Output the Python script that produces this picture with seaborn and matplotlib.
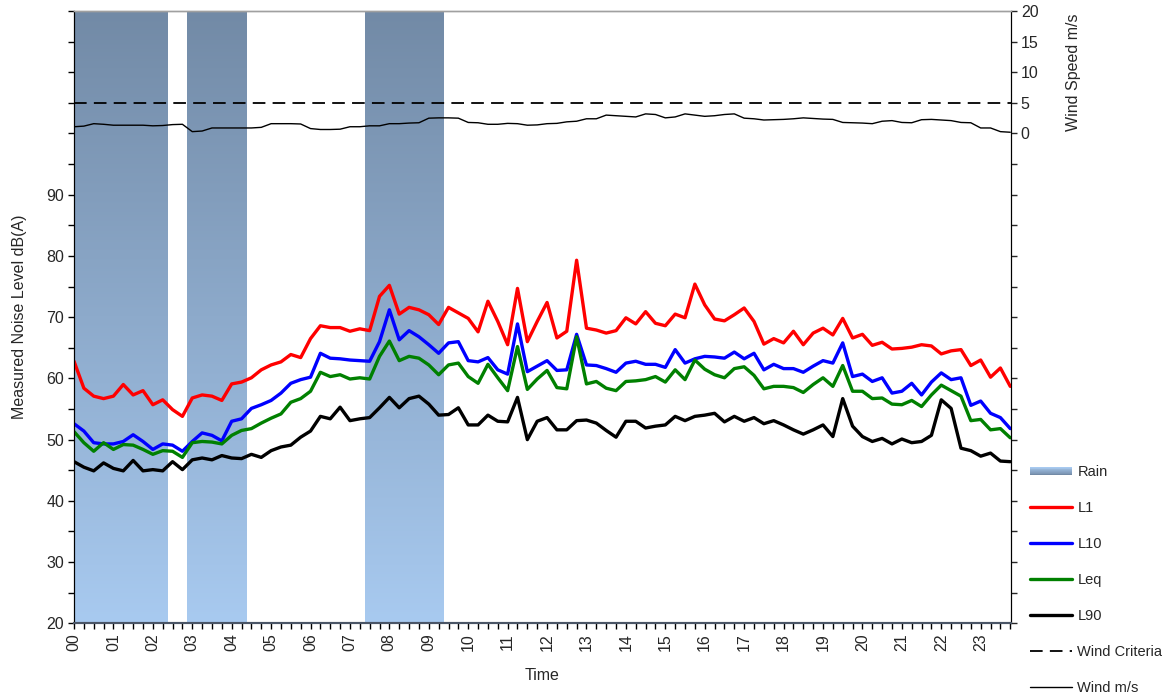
import numpy as np
import pandas as pd
import seaborn as sns
import matplotlib
matplotlib.use("Agg")
import matplotlib.pyplot as plt
from matplotlib.colors import LinearSegmentedColormap
from matplotlib.lines import Line2D
from matplotlib.patches import Rectangle
from matplotlib.legend_handler import HandlerBase

# 15 minute samples over the day
time_h = np.arange(0, 24, 0.25)

L1 = [62.8, 58.4, 57.1, 56.7, 57.1, 59.0, 57.3, 58.0, 55.7, 56.5, 54.9, 53.8, 56.8, 57.3, 57.1, 56.4,
      59.1, 59.4, 60.1, 61.4, 62.2, 62.7, 63.9, 63.4, 66.5, 68.6, 68.3, 68.3, 67.7, 68.1, 67.8, 73.4,
      75.2, 70.5, 71.6, 71.2, 70.4, 68.8, 71.6, 70.7, 69.8, 67.6, 72.6, 69.3, 65.5, 74.7, 66.0, 69.3,
      72.4, 66.6, 67.7, 79.3, 68.2, 67.9, 67.4, 67.8, 69.9, 68.9, 70.9, 69.0, 68.6, 70.5, 69.9, 75.4,
      72.0, 69.7, 69.4, 70.4, 71.5, 69.3, 65.6, 66.5, 65.8, 67.7, 65.5, 67.4, 68.2, 67.1, 69.8, 66.6,
      67.2, 65.4, 65.9, 64.8, 64.9, 65.1, 65.5, 65.3, 64.0, 64.5, 64.7, 62.1, 63.0, 60.2, 61.7, 58.7]

L10 = [52.6, 51.4, 49.5, 49.3, 49.3, 49.7, 50.8, 49.7, 48.4, 49.3, 49.1, 48.1, 49.7, 51.1, 50.7, 49.8,
       53.0, 53.4, 55.1, 55.7, 56.4, 57.6, 59.2, 59.8, 60.2, 64.1, 63.3, 63.2, 63.0, 62.9, 62.8, 66.0,
       71.2, 66.3, 67.8, 66.8, 65.5, 64.1, 65.8, 66.0, 62.9, 62.7, 63.4, 61.4, 60.7, 68.9, 61.1, 62.0,
       62.9, 61.3, 61.4, 67.2, 62.2, 62.1, 61.6, 61.0, 62.5, 62.8, 62.3, 62.3, 61.8, 64.7, 62.5, 63.2,
       63.6, 63.5, 63.3, 64.3, 63.2, 64.1, 61.4, 62.3, 61.6, 61.6, 61.0, 62.0, 62.9, 62.5, 65.8, 60.3,
       60.7, 59.5, 60.1, 57.6, 57.9, 59.2, 57.3, 59.4, 60.9, 59.8, 60.1, 55.6, 56.3, 54.3, 53.6, 51.8]

Leq = [51.3, 49.5, 48.1, 49.5, 48.4, 49.2, 49.1, 48.4, 47.6, 48.2, 48.1, 47.1, 49.5, 49.7, 49.6, 49.3,
       50.7, 51.5, 51.8, 52.7, 53.5, 54.2, 56.1, 56.7, 57.9, 61.0, 60.3, 60.6, 59.9, 60.1, 59.9, 63.6,
       66.1, 62.9, 63.6, 63.3, 62.2, 60.6, 62.2, 62.5, 60.3, 59.2, 62.3, 60.1, 58.0, 65.2, 58.2, 59.9,
       61.3, 58.5, 58.3, 66.8, 59.1, 59.5, 58.4, 58.0, 59.5, 59.6, 59.8, 60.3, 59.4, 61.4, 59.8, 63.0,
       61.5, 60.6, 60.1, 61.6, 61.9, 60.5, 58.3, 58.7, 58.7, 58.5, 57.7, 59.0, 60.1, 58.7, 62.1, 57.9,
       57.9, 56.7, 56.8, 55.8, 55.7, 56.4, 55.4, 57.3, 58.9, 58.0, 57.1, 53.1, 53.3, 51.6, 51.8, 50.3]

L90 = [46.4, 45.5, 44.9, 46.2, 45.3, 44.9, 46.6, 44.9, 45.1, 44.9, 46.4, 45.1, 46.7, 47.0, 46.7, 47.4,
       47.0, 46.9, 47.6, 47.1, 48.2, 48.8, 49.1, 50.4, 51.4, 53.8, 53.4, 55.3, 53.1, 53.4, 53.6, 55.2,
       56.9, 55.2, 56.7, 57.1, 55.8, 54.0, 54.1, 55.2, 52.4, 52.4, 54.0, 53.0, 52.9, 56.9, 50.0, 53.0,
       53.6, 51.6, 51.6, 53.1, 53.2, 52.7, 51.5, 50.4, 53.0, 53.0, 51.9, 52.2, 52.4, 53.8, 53.1, 53.8,
       54.0, 54.3, 52.9, 53.8, 53.0, 53.6, 52.6, 53.1, 52.4, 51.6, 50.9, 51.6, 52.4, 50.5, 56.7, 52.2,
       50.5, 49.7, 50.2, 49.3, 50.1, 49.5, 49.7, 50.7, 56.5, 55.1, 48.6, 48.2, 47.3, 47.8, 46.5, 46.4]

wind = [1.1, 1.2, 1.6, 1.5, 1.35, 1.35, 1.35, 1.35, 1.25, 1.3, 1.45, 1.5, 0.3, 0.4, 0.9, 0.9,
        0.9, 0.9, 0.9, 1.0, 1.6, 1.6, 1.6, 1.55, 0.8, 0.65, 0.65, 0.7, 1.1, 1.1, 1.25, 1.25,
        1.6, 1.6, 1.7, 1.75, 2.5, 2.55, 2.55, 2.5, 1.8, 1.75, 1.5, 1.5, 1.65, 1.6, 1.35, 1.4,
        1.6, 1.65, 1.9, 2.0, 2.4, 2.4, 3.0, 2.9, 2.8, 2.7, 3.2, 3.1, 2.55, 2.7, 3.2, 3.0,
        2.8, 2.9, 3.1, 3.2, 2.5, 2.4, 2.2, 2.25, 2.3, 2.4, 2.55, 2.45, 2.35, 2.3, 1.8, 1.75,
        1.7, 1.6, 2.0, 2.1, 1.8, 1.75, 2.25, 2.3, 2.2, 2.1, 1.8, 1.75, 0.9, 0.9, 0.3, 0.2]

wind_criteria = 5

# rain periods (hours)
rain_start = [0.0, 2.875, 7.375]
rain_end = [2.375, 4.375, 9.375]

series_names = ["L1", "L10", "Leq", "L90"]
series_colors = {"L1": "#FF0000", "L10": "#0000FF", "Leq": "#008000", "L90": "#000000"}

df = pd.DataFrame({"time": time_h, "L1": L1, "L10": L10, "Leq": Leq, "L90": L90})
df_long = df.melt(id_vars="time", var_name="metric", value_name="level")
df_wind = pd.DataFrame({"time": time_h, "wind": wind})

sns.set_style("ticks")
plt.rcParams["font.family"] = ["Liberation Sans", "DejaVu Sans"]

rain_cmap = LinearSegmentedColormap.from_list("rain", ["#A8CAF0", "#728AA6"])

fig = plt.figure(figsize=(11.71, 6.97), dpi=100)
ax = fig.add_axes([0.0632, 0.1057, 0.8002, 0.8785])
ax2 = ax.twinx()

# rain bands with vertical gradient
grad = np.linspace(1, 0, 256).reshape(-1, 1)
for s, e in zip(rain_start, rain_end):
    ax.imshow(grad, extent=[s, e, 20, 120], aspect="auto", cmap=rain_cmap,
              origin="upper", zorder=0, interpolation="bilinear")

sns.lineplot(data=df_long, x="time", y="level", hue="metric", hue_order=series_names,
             palette=series_colors, linewidth=2.4, legend=False, ax=ax, zorder=3)
for ln in ax.get_lines():
    ln.set_solid_joinstyle("round")
    ln.set_solid_capstyle("round")

sns.lineplot(data=df_wind, x="time", y="wind", color="black", linewidth=1.0, ax=ax2)
ax2.axhline(wind_criteria, color="black", linestyle=(0, (7, 4)), linewidth=1.3)

xmax = time_h[-1] + 0.02
ax.set_xlim(0, xmax)
ax.set_ylim(20, 120)
ax2.set_ylim(-80, 20)

ax.set_xticks(range(24))
ax.set_xticklabels([f"{h:02d}" for h in range(24)], rotation=90, fontsize=11.5)
ax.set_xticks(np.arange(0, 24, 0.25), minor=True)

left_ticks = np.arange(20, 121, 5)
ax.set_yticks(left_ticks)
ax.set_yticklabels([str(v) if (v % 10 == 0 and v <= 90) else "" for v in left_ticks], fontsize=11.5)
right_ticks = np.arange(-80, 21, 5)
ax2.set_yticks(right_ticks)
ax2.set_yticklabels([str(v) if v >= 0 else "" for v in right_ticks], fontsize=11.5)

ax.tick_params(axis="both", which="both", direction="out", length=4, width=1, color="black", pad=3)
ax.tick_params(axis="x", which="minor", length=4)
ax2.tick_params(axis="y", direction="out", length=4, width=1, pad=3)

ax.set_xlabel("Time", fontsize=11.5, labelpad=12)
ax.set_ylabel("Measured Noise Level dB(A)", fontsize=11.5)
ax.yaxis.set_label_coords(-0.05, 0.5)
ax2.set_ylabel("Wind Speed m/s", fontsize=11.5)
ax2.yaxis.set_label_coords(1.059, 0.9)

for a in (ax, ax2):
    a.spines["top"].set_color("#A0A0A0")
    a.spines["top"].set_linewidth(1.0)
    a.spines["left"].set_color("black")
    a.spines["right"].set_color("black")
    a.spines["bottom"].set_color("#4A5566")
    a.spines["bottom"].set_linewidth(1.5)


class GradientHandler(HandlerBase):
    def create_artists(self, legend, orig_handle, xdescent, ydescent, width, height, fontsize, trans):
        n = 10
        h_total = height * 0.8
        y0 = -ydescent + (height - h_total) / 2
        arts = []
        for i in range(n):
            c = rain_cmap(i / (n - 1))
            r = Rectangle((-xdescent, y0 + h_total * (n - 1 - i) / n), width, h_total / n,
                          facecolor=c, edgecolor="none", transform=trans)
            arts.append(r)
        return arts


rain_handle = Rectangle((0, 0), 1, 1)
handles = [rain_handle] + [Line2D([], [], color=series_colors[n], linewidth=2.4) for n in series_names] + [
    Line2D([], [], color="black", linestyle=(0, (7, 4)), linewidth=1.3),
    Line2D([], [], color="black", linewidth=1.0)]
labels = ["Rain"] + series_names + ["Wind Criteria", "Wind m/s"]

fig.legend(handles, labels, loc="upper left", bbox_to_anchor=(0.8746, 0.341),
           frameon=False, fontsize=10.5, handlelength=2.9, handletextpad=0.35,
           labelspacing=1.51, borderaxespad=0, handler_map={rain_handle: GradientHandler()})

fig.savefig("out.png", dpi=100)
